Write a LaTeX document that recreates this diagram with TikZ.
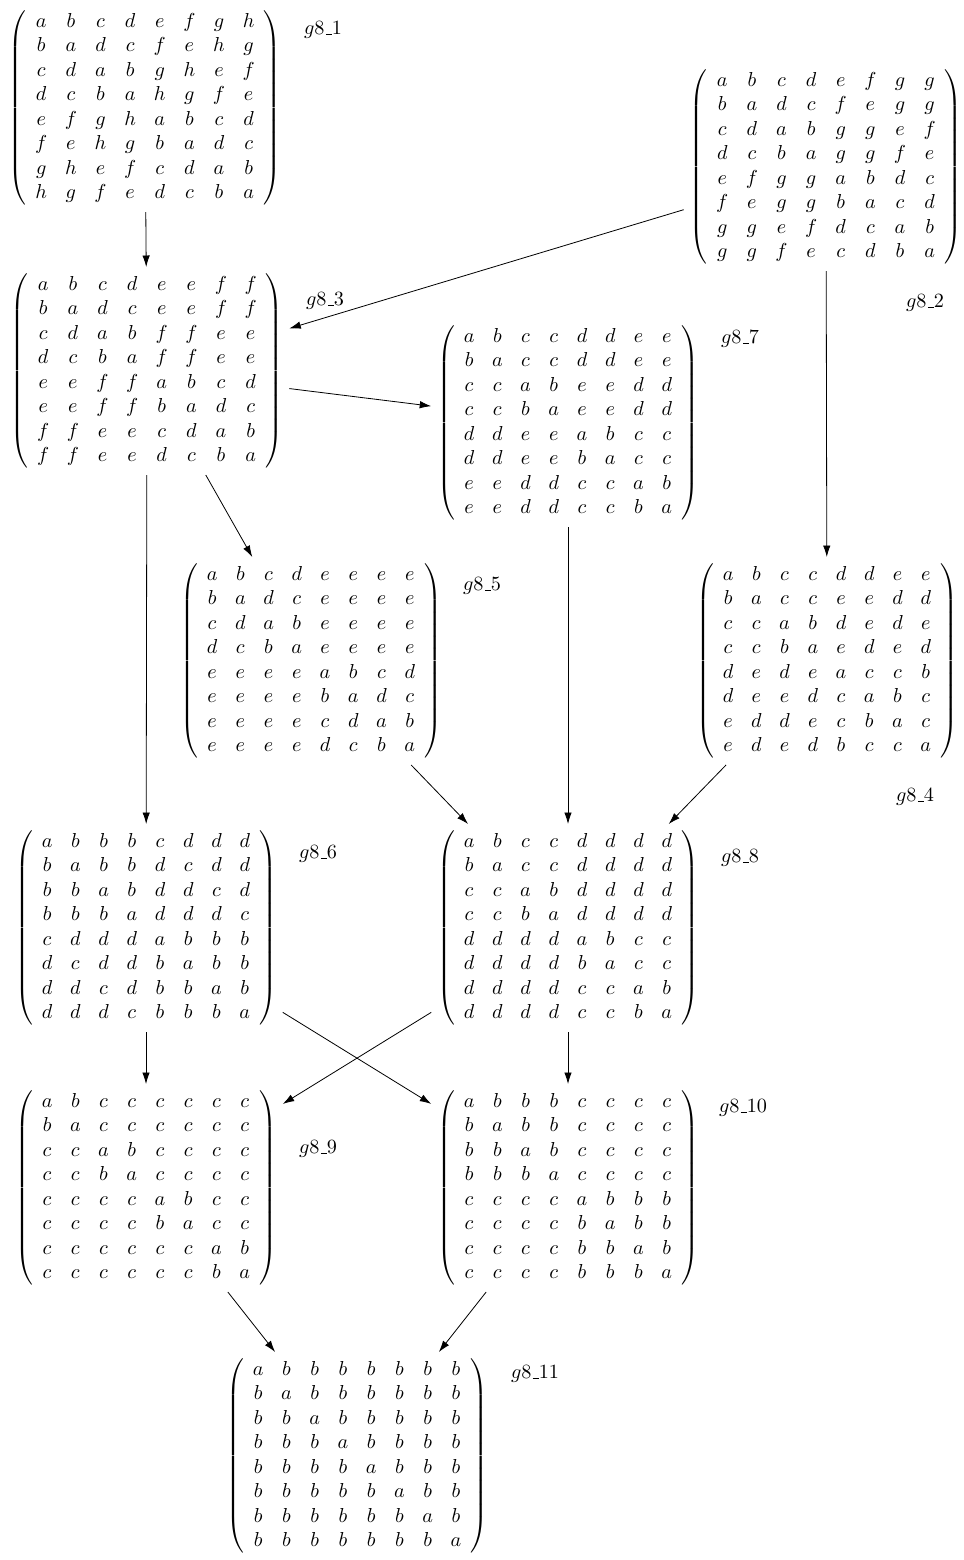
\documentclass[tikz,border=0pt]{standalone}
\usepackage{amsmath}
\usetikzlibrary{arrows.meta}
\newcommand{\usc}{\leavevmode\kern.06em\vbox{\hrule width.3em}}
\newcommand{\gl}[1]{$g8\mbox{\usc}#1$}
\newenvironment{mymat}{\setlength{\arraycolsep}{4.35pt}\renewcommand{\arraystretch}{1.01}\left(\begin{array}{cccccccc}}{\end{array}\right)}
\tikzset{
  mat/.style={inner sep=0pt, outer sep=3pt},
  lbl/.style={inner sep=0pt},
  arr/.style={-{Latex[length=2mm,width=1.3mm]}, line width=0.4pt}
}
\begin{document}
\begin{tikzpicture}[x=0.495pt, y=-0.495pt]
\useasboundingbox (0,0) rectangle (964,1560);
\node[mat] (m1) at (145,108) {$\begin{mymat}
a&b&c&d&e&f&g&h\\ b&a&d&c&f&e&h&g\\ c&d&a&b&g&h&e&f\\ d&c&b&a&h&g&f&e\\
e&f&g&h&a&b&c&d\\ f&e&h&g&b&a&d&c\\ g&h&e&f&c&d&a&b\\ h&g&f&e&d&c&b&a
\end{mymat}$};
\node[mat] (m2) at (826,167) {$\begin{mymat}
a&b&c&d&e&f&g&g\\ b&a&d&c&f&e&g&g\\ c&d&a&b&g&g&e&f\\ d&c&b&a&g&g&f&e\\
e&f&g&g&a&b&d&c\\ f&e&g&g&b&a&c&d\\ g&g&e&f&d&c&a&b\\ g&g&f&e&c&d&b&a
\end{mymat}$};
\node[mat] (m3) at (147,371) {$\begin{mymat}
a&b&c&d&e&e&f&f\\ b&a&d&c&e&e&f&f\\ c&d&a&b&f&f&e&e\\ d&c&b&a&f&f&e&e\\
e&e&f&f&a&b&c&d\\ e&e&f&f&b&a&d&c\\ f&f&e&e&c&d&a&b\\ f&f&e&e&d&c&b&a
\end{mymat}$};
\node[mat] (m7) at (568,423) {$\begin{mymat}
a&b&c&c&d&d&e&e\\ b&a&c&c&d&d&e&e\\ c&c&a&b&e&e&d&d\\ c&c&b&a&e&e&d&d\\
d&d&e&e&a&b&c&c\\ d&d&e&e&b&a&c&c\\ e&e&d&d&c&c&a&b\\ e&e&d&d&c&c&b&a
\end{mymat}$};
\node[mat] (m5) at (311,661) {$\begin{mymat}
a&b&c&d&e&e&e&e\\ b&a&d&c&e&e&e&e\\ c&d&a&b&e&e&e&e\\ d&c&b&a&e&e&e&e\\
e&e&e&e&a&b&c&d\\ e&e&e&e&b&a&d&c\\ e&e&e&e&c&d&a&b\\ e&e&e&e&d&c&b&a
\end{mymat}$};
\node[mat] (m4) at (827,661) {$\begin{mymat}
a&b&c&c&d&d&e&e\\ b&a&c&c&e&e&d&d\\ c&c&a&b&d&e&d&e\\ c&c&b&a&e&d&e&d\\
d&e&d&e&a&c&c&b\\ d&e&e&d&c&a&b&c\\ e&d&d&e&c&b&a&c\\ e&d&e&d&b&c&c&a
\end{mymat}$};
\node[mat] (m6) at (146,928) {$\begin{mymat}
a&b&b&b&c&d&d&d\\ b&a&b&b&d&c&d&d\\ b&b&a&b&d&d&c&d\\ b&b&b&a&d&d&d&c\\
c&d&d&d&a&b&b&b\\ d&c&d&d&b&a&b&b\\ d&d&c&d&b&b&a&b\\ d&d&d&c&b&b&b&a
\end{mymat}$};
\node[mat] (m8) at (568,928) {$\begin{mymat}
a&b&c&c&d&d&d&d\\ b&a&c&c&d&d&d&d\\ c&c&a&b&d&d&d&d\\ c&c&b&a&d&d&d&d\\
d&d&d&d&a&b&c&c\\ d&d&d&d&b&a&c&c\\ d&d&d&d&c&c&a&b\\ d&d&d&d&c&c&b&a
\end{mymat}$};
\node[mat] (m9) at (146,1188) {$\begin{mymat}
a&b&c&c&c&c&c&c\\ b&a&c&c&c&c&c&c\\ c&c&a&b&c&c&c&c\\ c&c&b&a&c&c&c&c\\
c&c&c&c&a&b&c&c\\ c&c&c&c&b&a&c&c\\ c&c&c&c&c&c&a&b\\ c&c&c&c&c&c&b&a
\end{mymat}$};
\node[mat] (m10) at (568,1188) {$\begin{mymat}
a&b&b&b&c&c&c&c\\ b&a&b&b&c&c&c&c\\ b&b&a&b&c&c&c&c\\ b&b&b&a&c&c&c&c\\
c&c&c&c&a&b&b&b\\ c&c&c&c&b&a&b&b\\ c&c&c&c&b&b&a&b\\ c&c&c&c&b&b&b&a
\end{mymat}$};
\node[mat] (m11) at (357,1456) {$\begin{mymat}
a&b&b&b&b&b&b&b\\ b&a&b&b&b&b&b&b\\ b&b&a&b&b&b&b&b\\ b&b&b&a&b&b&b&b\\
b&b&b&b&a&b&b&b\\ b&b&b&b&b&a&b&b\\ b&b&b&b&b&b&a&b\\ b&b&b&b&b&b&b&a
\end{mymat}$};
\node[lbl] (l1) at (323,30) {\gl{1}};
\node[lbl] (l2) at (925,303) {\gl{2}};
\node[lbl] (l3) at (325,301) {\gl{3}};
\node[lbl] (l7) at (740,339) {\gl{7}};
\node[lbl] (l5) at (482,586) {\gl{5}};
\node[lbl] (l4) at (915,797) {\gl{4}};
\node[lbl] (l6) at (318,854) {\gl{6}};
\node[lbl] (l8) at (740,858) {\gl{8}};
\node[lbl] (l9) at (318,1149) {\gl{9}};
\node[lbl] (l10) at (743,1108) {\gl{10}};
\node[lbl] (l11) at (535,1374) {\gl{11}};
\draw[arr] (m1) -- (m3);
\draw[arr] (m2) -- (m3);
\draw[arr] (m3) -- (m7);
\draw[arr] (m3) -- (m5);
\draw[arr] (m3) -- (m6);
\draw[arr] (m2) -- (m4);
\draw[arr] (m7) -- (m8);
\draw[arr] (m5) -- (m8);
\draw[arr] (m4) -- (m8);
\draw[arr] (m6) -- (m9);
\draw[arr] (m6) -- (m10);
\draw[arr] (m8) -- (m9);
\draw[arr] (m8) -- (m10);
\draw[arr] (m9) -- (m11);
\draw[arr] (m10) -- (m11);
\end{tikzpicture}
\end{document}
